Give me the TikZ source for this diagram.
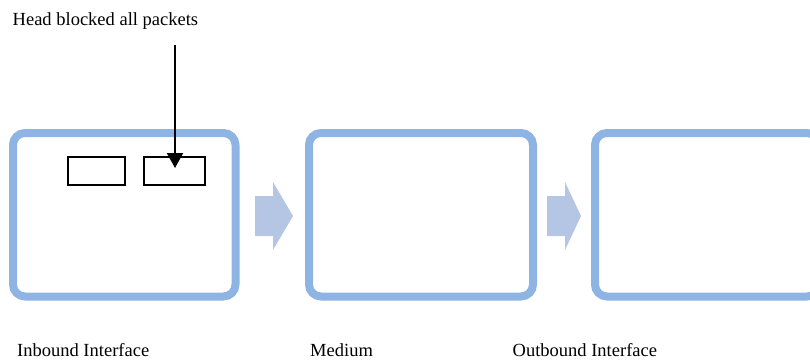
\documentclass[tikz,border=0pt]{standalone}
\usepackage{fontspec}
\setmainfont{Liberation Serif}
\usetikzlibrary{arrows.meta}
\definecolor{boxblue}{HTML}{8EB4E3}
\definecolor{arrblue}{HTML}{B4C6E4}
\begin{document}
\begin{tikzpicture}[x=1pt,y=-1pt,
  panel/.style={draw=boxblue,line width=8pt,rounded corners=12pt,minimum width=#1,minimum height=163.5pt,inner sep=0pt},
  slot/.style={draw=black,line width=1.2pt,inner sep=0pt},
  lbl/.style={anchor=base west,inner sep=0pt,font=\fontsize{18.5}{22}\selectfont},
  flow/.style={fill=arrblue}]
\useasboundingbox (0,0) rectangle (810,360);
\clip (0,0) rectangle (810,360);
\node[panel=222.5pt] (in) at (124.25,214.75) {};
\node[panel=224pt] (med) at (421,214.75) {};
\node[panel=224pt] (out) at (707,214.75) {};
\fill[flow] (255,196) -- (273,196) -- (273,182) -- (293,216) -- (273,250) -- (273,236) -- (255,236) -- cycle;
\fill[flow] (547,196) -- (565,196) -- (565,182) -- (581,216) -- (565,250) -- (565,236) -- (547,236) -- cycle;
\node[slot,minimum width=57pt,minimum height=28pt] (s1) at (96.5,171) {};
\node[slot,minimum width=61pt,minimum height=28pt] (s2) at (174.5,171) {};
\node[lbl] (head) at (12.5,25) {Head blocked all packets};
\coordinate (src) at (175,45);
\coordinate (hit) at (175,168);
\draw[line width=2pt,-{Triangle[width=16pt,length=15pt]}] (src) -- (hit);
\node[lbl] (l1) at (17,356) {Inbound Interface};
\node[lbl] (l2) at (310,356) {Medium};
\node[lbl] (l3) at (512.5,356) {Outbound Interface};
\end{tikzpicture}
\end{document}
